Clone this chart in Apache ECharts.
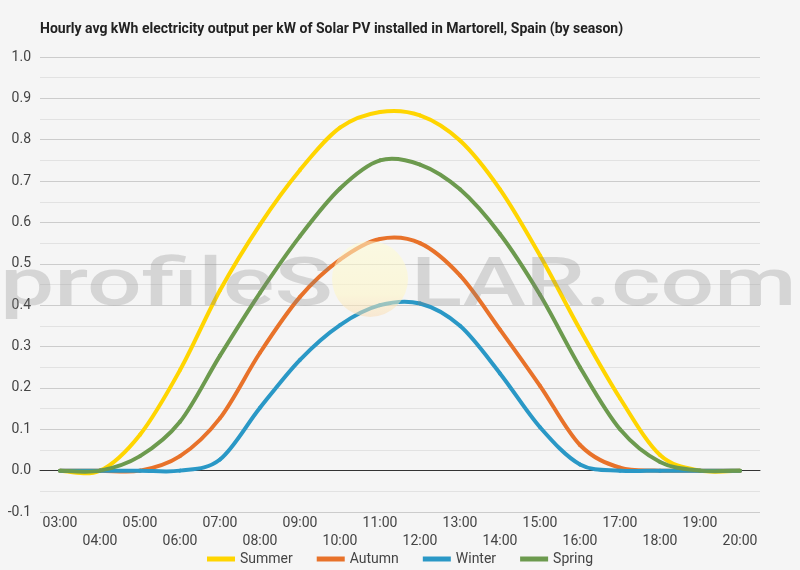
<!DOCTYPE html>
<html>
<head>
<meta charset="utf-8">
<script src="https://cdn.jsdelivr.net/npm/echarts@6/dist/echarts.min.js"></script>
<style>
html,body{margin:0;padding:0;background:#f5f5f5;}
#chart{width:800px;height:570px;}
</style>
</head>
<body>
<div id="chart"></div>
<script>
const titleText = 'Hourly avg kWh electricity output per kW of Solar PV installed in Martorell, Spain (by season)';
const hours = ['03:00','04:00','05:00','06:00','07:00','08:00','09:00','10:00','11:00','12:00','13:00','14:00','15:00','16:00','17:00','18:00','19:00','20:00'];
const seriesNames = ['Summer','Autumn','Winter','Spring'];
const summer = [0, 0, 0.087, 0.243, 0.436, 0.595, 0.727, 0.829, 0.867, 0.859, 0.798, 0.68, 0.52, 0.341, 0.175, 0.038, 0, 0];
const autumn = [0, 0, 0, 0.035, 0.127, 0.285, 0.42, 0.51, 0.56, 0.55, 0.472, 0.341, 0.205, 0.062, 0.007, 0, 0, 0];
const winter = [0, 0, 0, 0, 0.027, 0.152, 0.268, 0.352, 0.40, 0.404, 0.35, 0.235, 0.105, 0.015, 0, 0, 0, 0];
const spring = [0, 0, 0.035, 0.118, 0.278, 0.43, 0.567, 0.682, 0.75, 0.74, 0.68, 0.572, 0.425, 0.25, 0.10, 0.021, 0, 0];
const colors = ['#FFD500', '#E8722A', '#2A98C6', '#6C9A4E'];
const watermarkLeft = 'profileS';
const watermarkRight = 'LAR.com';

const chart = echarts.init(document.getElementById('chart'));
const dataSets = [summer, autumn, winter, spring];
const font = 'Roboto, "Noto Sans", sans-serif';

// Smooth curve through the data points (Catmull-Rom), positioned with the chart's own axes via api.coord
function makeRenderer(arr, color) {
  return function (params, api) {
    const i = params.dataIndex;
    if (i >= arr.length - 1) return null;
    const c = k => {
      const j = Math.max(0, Math.min(arr.length - 1, k));
      return api.coord([j, arr[j]]);
    };
    const p0 = c(i - 1), p1 = c(i), p2 = c(i + 1), p3 = c(i + 2);
    const t = 1 / 6;
    const c1x = p1[0] + (p2[0] - p0[0]) * t, c1y = p1[1] + (p2[1] - p0[1]) * t;
    const c2x = p2[0] - (p3[0] - p1[0]) * t, c2y = p2[1] - (p3[1] - p1[1]) * t;
    return {
      type: 'path',
      shape: { pathData: 'M' + p1[0] + ' ' + p1[1] + ' C' + c1x + ' ' + c1y + ' ' + c2x + ' ' + c2y + ' ' + p2[0] + ' ' + p2[1] },
      style: { fill: null, stroke: color, lineWidth: 4, lineCap: 'round', lineJoin: 'round' },
      silent: true
    };
  };
}

chart.setOption({
  backgroundColor: '#f5f5f5',
  textStyle: { fontFamily: font },
  title: {
    text: titleText,
    left: 35, top: 17,
    textStyle: { fontSize: 14, fontWeight: 'bold', color: '#222', fontFamily: font }
  },
  grid: { left: 40, right: 40, top: 57, bottom: 58, containLabel: false },
  legend: {
    top: 547, left: 'center',
    icon: 'rect', itemWidth: 28, itemHeight: 5, itemGap: 24,
    textStyle: { fontSize: 14, color: '#444', fontFamily: font },
    data: seriesNames.map((n, i) => ({ name: n, itemStyle: { color: colors[i] } }))
  },
  xAxis: {
    type: 'category',
    data: hours,
    boundaryGap: true,
    axisLine: { onZero: true, lineStyle: { color: '#333', width: 1 } },
    axisTick: { show: false },
    axisLabel: {
      interval: 0, margin: 2, fontSize: 14, color: '#444', lineHeight: 18,
      formatter: (v, i) => (i % 2 === 1 ? '\n' + v : v)
    },
    splitLine: { show: false }
  },
  yAxis: {
    type: 'value',
    min: -0.1, max: 1.0, interval: 0.1,
    axisLine: { show: false },
    axisTick: { show: false },
    axisLabel: { fontSize: 14, color: '#444', margin: 9, formatter: v => v.toFixed(1) },
    splitLine: { lineStyle: { color: '#cccccc', width: 1 } },
    minorTick: { show: false, splitNumber: 2 },
    minorSplitLine: { show: true, lineStyle: { color: '#e2e2e2', width: 1 } }
  },
  series: seriesNames.map((n, i) => ({
    name: n,
    type: 'custom',
    data: dataSets[i].map((v, k) => [k, v]),
    encode: { x: 0, y: 1 },
    color: colors[i],
    itemStyle: { color: colors[i] },
    renderItem: makeRenderer(dataSets[i], colors[i]),
    z: 2 + i
  })),
  graphic: [
    {
      type: 'text', x: 0, y: 288, scaleX: 1.44, originX: 0, z: 100,
      style: { text: watermarkLeft, font: '500 67px Roboto, sans-serif', fill: 'rgba(130,130,130,0.27)', textVerticalAlign: 'middle' }
    },
    {
      type: 'circle', z: 100,
      shape: { cx: 370, cy: 279, r: 38 },
      style: {
        fill: new echarts.graphic.LinearGradient(0, 0, 0, 1, [
          { offset: 0, color: 'rgba(255,252,210,0.55)' },
          { offset: 0.7, color: 'rgba(255,246,195,0.55)' },
          { offset: 1, color: 'rgba(250,218,175,0.5)' }
        ])
      }
    },
    {
      type: 'text', x: 411, y: 288, scaleX: 1.41, originX: 0, z: 100,
      style: { text: watermarkRight, font: '500 67px Roboto, sans-serif', fill: 'rgba(130,130,130,0.27)', textVerticalAlign: 'middle' }
    }
  ]
});
</script>
</body>
</html>
